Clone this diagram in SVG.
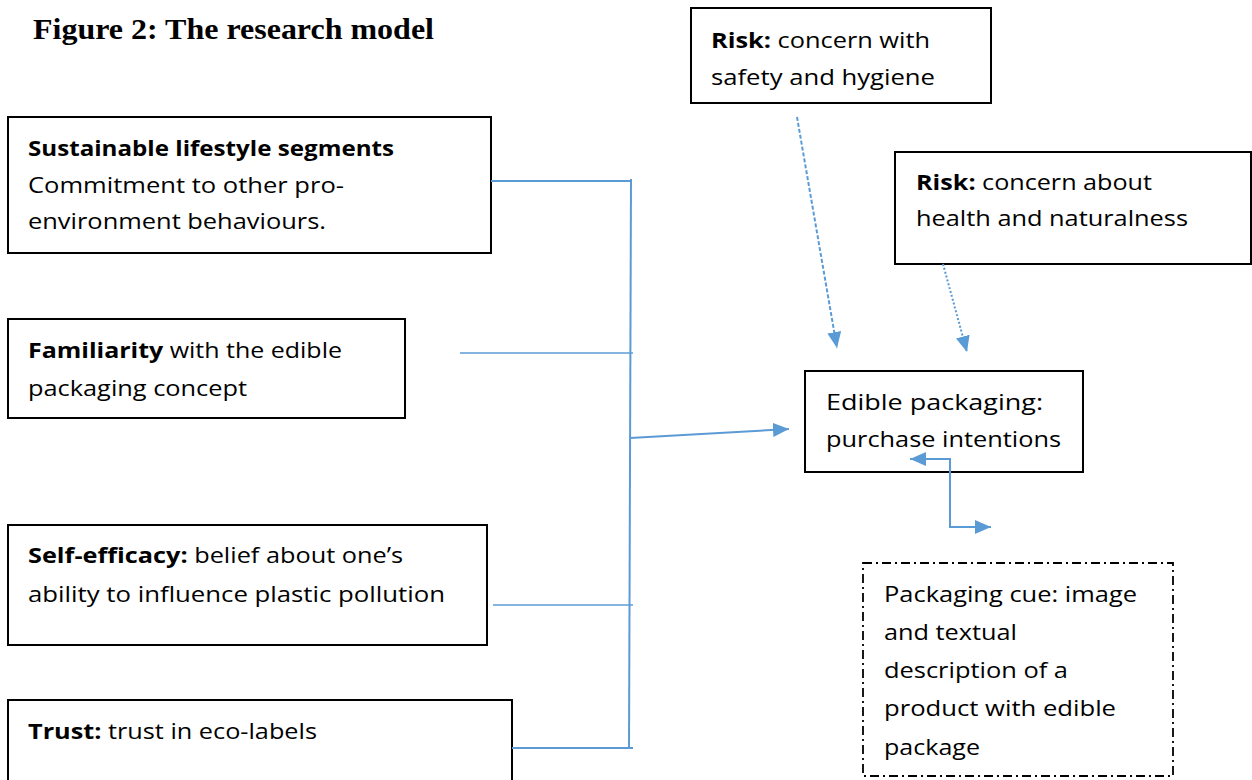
<svg xmlns="http://www.w3.org/2000/svg" width="1252" height="780" viewBox="0 0 1252 780">
<style>
  .box { fill: #ffffff; stroke: #000000; stroke-width: 2; }
  .cue { fill: #ffffff; stroke: #000000; stroke-width: 1.8; stroke-dasharray: 9 4 2 4; }
  .t { font-family: "Open Sans", "Noto Sans", sans-serif; font-size: 21.5px; fill: #000000; }
  .b { font-weight: bold; }
  .title { font-family: "Liberation Serif", "Times New Roman", serif; font-size: 30px; font-weight: bold; fill: #000000; }
  .ln { fill: none; stroke: #5B9BD5; stroke-width: 2; }
  .thin { fill: none; stroke: #5B9BD5; stroke-width: 1.6; }
  .dash { fill: none; stroke: #5B9BD5; stroke-width: 2; stroke-dasharray: 4 2; }
  .dot { fill: none; stroke: #5B9BD5; stroke-width: 2; stroke-dasharray: 2 2; }
</style>
<defs>
  <marker id="ah" markerUnits="userSpaceOnUse" markerWidth="16" markerHeight="14" refX="16" refY="7" orient="auto-start-reverse">
    <path d="M0,0 L16,7 L0,14 z" fill="#5B9BD5"/>
  </marker>
</defs>
<rect width="1252" height="780" fill="#ffffff"/>

<text class="title" x="33" y="39" textLength="401" lengthAdjust="spacingAndGlyphs">Figure 2: The research model</text>

<g id="node-sustainable">
  <rect class="box" x="8" y="117" width="483" height="136"/>
  <text class="t b" x="28" y="156" textLength="366" lengthAdjust="spacingAndGlyphs">Sustainable lifestyle segments</text>
  <text class="t" x="28" y="193" textLength="316" lengthAdjust="spacingAndGlyphs">Commitment to other pro-</text>
  <text class="t" x="28" y="229" textLength="298" lengthAdjust="spacingAndGlyphs">environment behaviours.</text>
</g>

<g id="node-familiarity">
  <rect class="box" x="8" y="319" width="397" height="99"/>
  <text class="t" x="28" y="358" textLength="314" lengthAdjust="spacingAndGlyphs"><tspan class="b">Familiarity</tspan> with the edible</text>
  <text class="t" x="28" y="396" textLength="219" lengthAdjust="spacingAndGlyphs">packaging concept</text>
</g>

<g id="node-selfefficacy">
  <rect class="box" x="8" y="525" width="479" height="120"/>
  <text class="t" x="28" y="563" textLength="375" lengthAdjust="spacingAndGlyphs"><tspan class="b">Self-efficacy:</tspan> belief about one’s</text>
  <text class="t" x="28" y="602" textLength="417" lengthAdjust="spacingAndGlyphs">ability to influence plastic pollution</text>
</g>

<g id="node-trust">
  <rect class="box" x="8" y="700" width="504" height="90"/>
  <text class="t" x="28" y="739" textLength="289" lengthAdjust="spacingAndGlyphs"><tspan class="b">Trust:</tspan> trust in eco-labels</text>
</g>

<g id="node-risk-safety">
  <rect class="box" x="691" y="8" width="300" height="95"/>
  <text class="t" x="711" y="48" textLength="219" lengthAdjust="spacingAndGlyphs"><tspan class="b">Risk:</tspan> concern with</text>
  <text class="t" x="711" y="85" textLength="224" lengthAdjust="spacingAndGlyphs">safety and hygiene</text>
</g>

<g id="node-risk-health">
  <rect class="box" x="895" y="152" width="356" height="112"/>
  <text class="t" x="916" y="190" textLength="236" lengthAdjust="spacingAndGlyphs"><tspan class="b">Risk:</tspan> concern about</text>
  <text class="t" x="916" y="226" textLength="272" lengthAdjust="spacingAndGlyphs">health and naturalness</text>
</g>

<g id="node-intentions">
  <rect class="box" x="805" y="371" width="278" height="101"/>
  <text class="t" x="826" y="410" textLength="217" lengthAdjust="spacingAndGlyphs">Edible packaging:</text>
  <text class="t" x="826" y="447" textLength="235" lengthAdjust="spacingAndGlyphs">purchase intentions</text>
</g>

<g id="node-cue">
  <rect class="cue" x="863" y="563" width="310" height="213"/>
  <text class="t" x="884" y="602" textLength="253" lengthAdjust="spacingAndGlyphs">Packaging cue: image</text>
  <text class="t" x="884" y="640" textLength="133" lengthAdjust="spacingAndGlyphs">and textual</text>
  <text class="t" x="884" y="678" textLength="184" lengthAdjust="spacingAndGlyphs">description of a</text>
  <text class="t" x="884" y="716" textLength="232" lengthAdjust="spacingAndGlyphs">product with edible</text>
  <text class="t" x="884" y="755" textLength="96" lengthAdjust="spacingAndGlyphs">package</text>
</g>

<g id="connectors">
  <line class="ln" x1="631" y1="179" x2="629" y2="749"/>
  <line class="ln" x1="491" y1="181" x2="632" y2="181"/>
  <line class="thin" x1="460" y1="353" x2="633" y2="353"/>
  <line class="thin" x1="493" y1="605" x2="633" y2="605"/>
  <line class="ln" x1="512" y1="748" x2="633" y2="748"/>
  <line class="ln" x1="630" y1="438" x2="789" y2="429" marker-end="url(#ah)"/>
  <line class="dash" x1="797" y1="117" x2="837" y2="348" marker-end="url(#ah)"/>
  <line class="dot" x1="943" y1="264" x2="967" y2="352" marker-end="url(#ah)"/>
  <path class="ln" d="M910,459 H950 V527 H991" marker-start="url(#ah)" marker-end="url(#ah)"/>
</g>
</svg>
